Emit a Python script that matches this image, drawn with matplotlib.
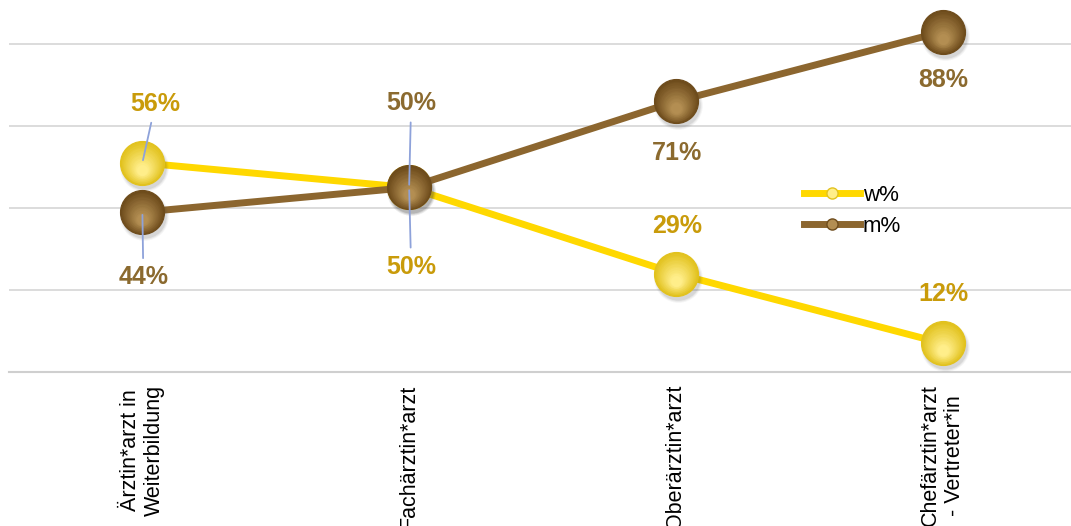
import numpy as np
import matplotlib
matplotlib.use("Agg")
import matplotlib.pyplot as plt
from matplotlib.lines import Line2D
from matplotlib import transforms
from matplotlib.colors import to_rgb

plt.rcParams['font.family'] = ['Liberation Sans', 'DejaVu Sans']

categories = ["Ärztin*arzt in\nWeiterbildung", "Fachärztin*arzt",
              "Oberärztin*arzt", "Chefärztin*arzt\n- Vertreter*in"]
w_pct = [56, 50, 29, 12]
m_pct = [44, 50, 71, 88]

# label offsets (pixels) from each point
w_offsets = [(13, 59), (2, -79), (1, 48), (1, 49)]
m_offsets = [(1, -65), (2, 84), (1, -52), (1, -48)]

w_line, w_text = "#FFD800", "#C99B0A"
m_line, m_text = "#8C662F", "#8B6A2F"
leader = "#8EA2DA"

fig = plt.figure(figsize=(10.71, 5.26), dpi=100)
ax = fig.add_axes([9 / 1071, 1 - 372 / 526, 1067 / 1071, 369 / 526])
ax.set_xlim(-0.5, 3.5)
ax.set_ylim(5, 95)

ax.set_yticks([25, 45, 65, 85])
ax.yaxis.grid(True, color="#D9D9D9", linewidth=1.3)
ax.set_axisbelow(True)
ax.tick_params(axis="y", left=False, labelleft=False)
for s in ["left", "right", "top"]:
    ax.spines[s].set_visible(False)
ax.spines["bottom"].set_color("#CFCFCF")
ax.spines["bottom"].set_linewidth(1.5)

x = np.arange(len(categories))
ax.set_xticks(x)
ax.set_xticklabels(categories, rotation=90, fontsize=15.5, va="top", ha="center",
                   multialignment="center")
ax.tick_params(axis="x", length=0, pad=9)


def shaded_markers(vals, dark, light, z):
    # soft drop shadow
    for r, a in [(35, 0.05), (33.5, 0.07), (32, 0.10)]:
        tr = transforms.offset_copy(ax.transData, fig, x=2, y=-4, units="dots")
        ax.plot(x, vals, "o", ms=r, color="#404040", alpha=a, mec="none",
                transform=tr, zorder=z)
    # radial shading: dark rim on top, lighter toward the bottom
    dark_c, light_c = np.array(to_rgb(dark)), np.array(to_rgb(light))
    n = 14
    for k in range(n):
        t = k / (n - 1)
        size = 31.7 * (1 - 0.75 * t)
        col = dark_c * (1 - t) + light_c * t
        tr = transforms.offset_copy(ax.transData, fig, x=0, y=-7 * t, units="dots")
        ax.plot(x, vals, "o", ms=size, color=col, mec="none", transform=tr,
                zorder=z + 0.01 * k)
    ax.plot(x, vals, "o", ms=31.7, mfc="none", mec=dark, mew=0.8, zorder=z + 0.2)


ax.plot(x, w_pct, color=w_line, linewidth=5, solid_capstyle="round", zorder=3)
shaded_markers(w_pct, "#E2C21E", "#FFEE8A", 4)
ax.plot(x, m_pct, color=m_line, linewidth=5, solid_capstyle="round", zorder=5)
shaded_markers(m_pct, "#6E4C1C", "#B38E52", 6)


def labels(vals, offsets, color, leaders):
    for i, (v, off) in enumerate(zip(vals, offsets)):
        arrow = None
        if i in leaders:
            arrow = dict(arrowstyle="-", color=leader, lw=1.3, shrinkA=3, shrinkB=2)
        ax.annotate(f"{v}%", (x[i], v), xytext=off, textcoords="offset pixels",
                    ha="center", va="center", fontsize=18, fontweight="bold",
                    color=color, arrowprops=arrow, zorder=9)


labels(w_pct, w_offsets, w_text, [0, 1])
labels(m_pct, m_offsets, m_text, [0, 1])

handles = [
    Line2D([], [], color=w_line, lw=5, marker="o", ms=8, mfc="#FFEE8A", mec="#E2C21E"),
    Line2D([], [], color=m_line, lw=5, marker="o", ms=8, mfc="#B38E52", mec="#6E4C1C"),
]
fig.legend(handles, ["w%", "m%"], loc="center left",
           bbox_to_anchor=(804 / 1071, 1 - 211 / 526), frameon=False, fontsize=16,
           handlelength=2.5, handletextpad=0.15, labelspacing=0.45, borderpad=0,
           borderaxespad=0)

fig.savefig("out.png", dpi=100)
